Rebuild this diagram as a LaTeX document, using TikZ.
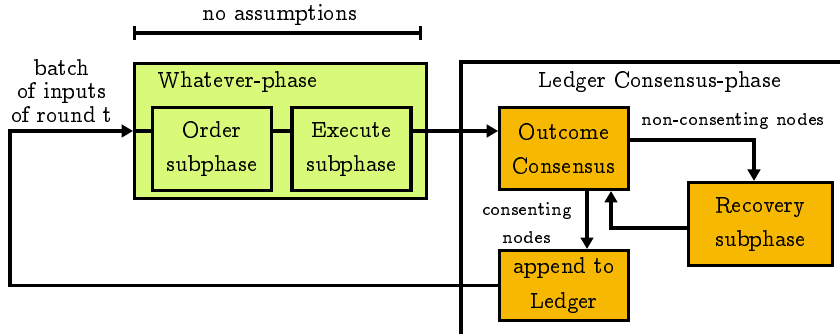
\documentclass[tikz,border=0pt]{standalone}
\usepackage[OT1]{fontenc}
\usepackage{ccfonts}
\usetikzlibrary{arrows.meta}

\definecolor{phasegreen}{RGB}{216,250,120}
\definecolor{phaseorange}{RGB}{246,184,0}

\tikzset{
  phasebox/.style={rectangle,draw,line width=1.35pt,align=center,
    font=\linespread{1.16}\selectfont},
  greenbox/.style={phasebox,fill=phasegreen,minimum width=1.83cm,minimum height=1.28cm},
  orangebox/.style={phasebox,fill=phaseorange},
  arr/.style={line width=1.35pt,-{Triangle[length=5pt,width=5.5pt]}},
  conn/.style={line width=1.35pt},
}

\begin{document}
\begin{tikzpicture}[x=0.9615cm,y=0.9615cm]
    \useasboundingbox (0,0) rectangle (13.44,5.344);
    % no assumptions
    \coordinate (NAa) at (2.128,4.816);
    \coordinate (NAb) at (6.752,4.816);
    \draw[line width=1.35pt,{Bar[width=5.8pt]}-{Bar[width=5.8pt]}] (NAa) -- (NAb);
    \node (NA) at (4.48,5.104) {no assumptions};
    % Whatever-phase
    \node[rectangle,draw,line width=1.35pt,fill=phasegreen,minimum width=4.49cm,minimum height=2.08cm] (WP) at (4.488,3.248) {};
    \node[anchor=west] (WPL) at (2.39,4.032) {Whatever-phase};
    \node[greenbox] (O) at (3.392,2.96) {Order\\subphase};
    \node[greenbox] (E) at (5.624,2.96) {Execute\\subphase};
    % Ledger Consensus-phase
    \coordinate (LCa) at (7.376,-0.3);
    \coordinate (LCb) at (7.376,4.352);
    \coordinate (LCc) at (13.8,4.352);
    \draw[conn] (LCa) -- (LCb) -- (LCc);
    \node (LCL) at (10.56,4.032) {Ledger Consensus-phase};
    \node[orangebox,minimum width=1.98cm,minimum height=1.26cm] (OC) at (9.024,2.968) {Outcome\\Consensus};
    \node[orangebox,minimum width=2.21cm,minimum height=1.28cm] (R) at (12.168,1.76) {Recovery\\subphase};
    \node[orangebox,minimum width=1.98cm,minimum height=1.05cm] (AL) at (9.024,0.776) {append to\\Ledger};
    \node[font=\footnotesize] (NC) at (11.73,3.408) {non-consenting nodes};
    \node[font=\footnotesize\linespread{1.2}\selectfont,align=center] (C) at (8.43,1.776) {consenting\\nodes};
    % input row
    \node[align=center,font=\linespread{0.8}\selectfont] (B) at (0.992,3.888) {batch\\of inputs\\of round t};
    \coordinate (in) at (0.16,3.248);
    \coordinate (nc) at (12.064,3.104);
    \coordinate (rb) at (9.776,1.696);
    \coordinate (cs) at (9.392,0);
    % links
    \draw[arr] (AL.west) -| (in) -- (WP.west |- in);
    \draw[conn] (WP.west |- in) -- (O.west |- in);
    \draw[conn] (O.east |- in) -- (E.west |- in);
    \draw[arr] (E.east |- in) -- (OC.west |- in);
    \draw[arr] (OC.east |- nc) -| (R.north -| nc);
    \draw[arr] (R.west |- rb) -| (OC.south -| rb);
    \draw[arr] (OC.south -| cs) -- (AL.north -| cs);
\end{tikzpicture}
\end{document}
